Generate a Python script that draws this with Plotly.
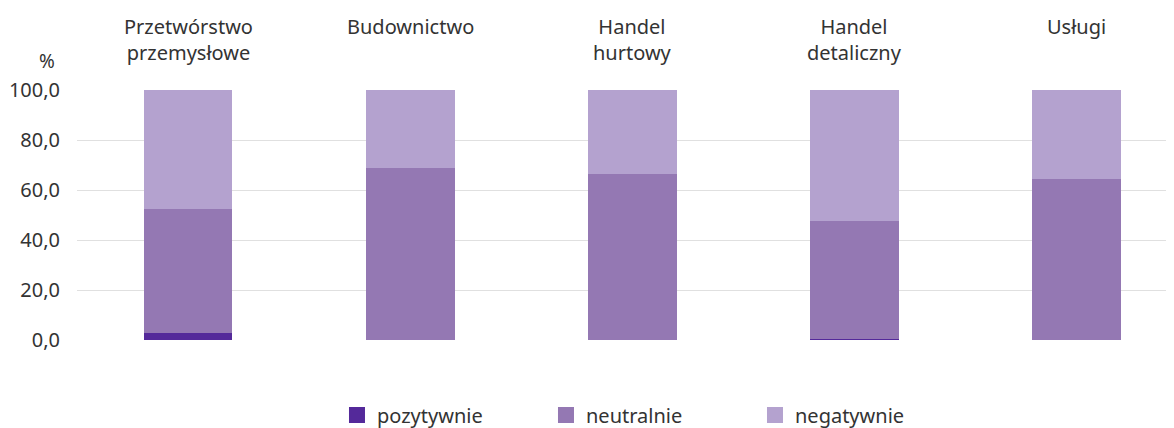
import plotly.graph_objects as go

categories = ["Przetwórstwo<br>przemysłowe", "Budownictwo", "Handel<br>hurtowy", "Handel<br>detaliczny", "Usługi"]
pozytywnie = [2.7, 0.0, 0.0, 0.6, 0.0]
neutralnie = [49.6, 68.8, 66.4, 47.1, 64.4]
negatywnie = [47.7, 31.2, 33.6, 52.3, 35.6]
series_names = ["pozytywnie", "neutralnie", "negatywnie"]
colors = ["#54299a", "#9478b3", "#b4a2cf"]
y_ticks = [0, 20, 40, 60, 80, 100]

font_family = "Noto Sans"
text_color = "#333333"

xs = list(range(len(categories)))
fig = go.Figure()
for name, vals, col in zip(series_names, [pozytywnie, neutralnie, negatywnie], colors):
    fig.add_trace(go.Bar(x=xs, y=vals, name=name, marker=dict(color=col, line=dict(width=0)),
                         showlegend=False, hoverinfo="y+name"))
    fig.add_trace(go.Scatter(x=[None], y=[None], mode="markers", name=name,
                             marker=dict(symbol="square", size=16, color=col)))

for i, c in enumerate(categories):
    fig.add_annotation(x=i, xref="x", y=1.0, yref="paper", yanchor="top", yshift=79,
                       text=c, showarrow=False, font=dict(family=font_family, size=20, color=text_color))

fig.add_annotation(x=-0.027, xref="paper", xanchor="center", y=1.0, yref="paper", yanchor="bottom",
                   yshift=14, text="%", showarrow=False,
                   font=dict(family=font_family, size=19, color=text_color))

fig.update_layout(
    width=1166, height=420,
    margin=dict(l=69, r=0, t=82, b=88, autoexpand=False),
    barmode="stack", bargap=0.6,
    plot_bgcolor="white", paper_bgcolor="white",
    separators=", ",
    font=dict(family=font_family, size=20, color=text_color),
    xaxis=dict(range=[-0.5, 4.44], showticklabels=False, showgrid=False, zeroline=False),
    yaxis=dict(range=[0, 100], tickvals=y_ticks, tickformat=".1f", showgrid=True, gridcolor="#e0e0e0",
               gridwidth=1, zeroline=False, ticklabelstandoff=16,
               tickfont=dict(family=font_family, size=20, color=text_color)),
    legend=dict(orientation="h", x=0.237, xanchor="left", y=-0.30, yanchor="middle",
                traceorder="normal",
                font=dict(family=font_family, size=20, color=text_color),
                entrywidth=164, entrywidthmode="pixels"),
)

fig.write_html("out.html")
